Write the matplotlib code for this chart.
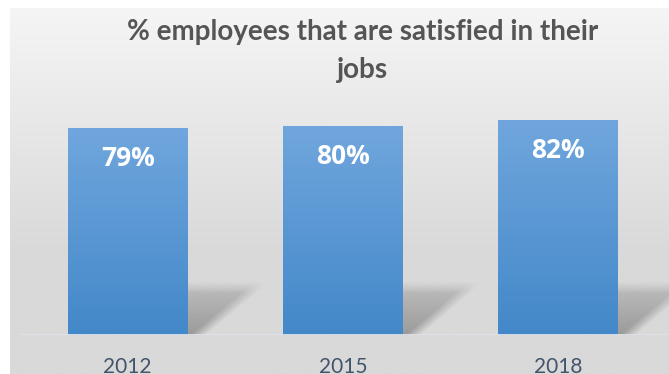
import matplotlib.pyplot as plt
import numpy as np

years = ['2012', '2015', '2018']
satisfied = [79, 80, 82]
title = '% employees that are satisfied in their\njobs'

W, H = 669, 374
fig = plt.figure(figsize=(W / 100, H / 100), dpi=100)
fig.patch.set_facecolor('white')

# chart area with a soft vertical gradient
bg = fig.add_axes([10 / W, 0, 1 - 10 / W, 1 - 8 / H])
bg.set_axis_off()
rows = np.linspace(0, 1, 200)
shade = np.clip(245 - 30 * rows / 0.72, 217, 245) / 255
bg.imshow(np.repeat(shade[:, None, None], 3, axis=2) * np.ones((1, 2, 3)),
          aspect='auto', extent=(0, 1, 0, 1), interpolation='bilinear')
bg.set_xlim(0, 1)
bg.set_ylim(0, 1)

# plotting axes: baseline at 335px, 100% at 74px
px_x = 215.3          # pixels per x unit
px_y = 2.61           # pixels per y unit
ax = fig.add_axes([20 / W, (H - 335) / H, 649 / W, 261 / H])
ax.set_facecolor('none')

x = np.arange(len(years))
w = 120 / px_x

top_c = np.array([112, 166, 221]) / 255
bot_c = np.array([67, 136, 201]) / 255
grad = np.linspace(0, 1, 100)[:, None]
bar_img = (top_c * (1 - grad) + bot_c * grad)[:, None, :]

# soft perspective shadows behind each bar
su = np.linspace(0, 80, 160)
sv = np.linspace(0, 60, 120)
U, V = np.meshgrid(su, sv)
edge = 10 + (67 - 10) * V / 48
d_diag = (edge - U) / 1.3
d_top = 48 - V
alpha = np.clip(d_diag / 12 + 0.5, 0, 1) * np.clip(d_top / 12 + 0.5, 0, 1)
alpha *= np.clip(1 - V / 90, 0, 1)
shadow = np.zeros((len(sv), len(su), 4))
shadow[..., 3] = 0.29 * alpha

for xi, v in zip(x, satisfied):
    xr = xi + w / 2
    ax.imshow(shadow[::-1], extent=(xr, xr + 80 / px_x, 0, 60 / px_y),
              aspect='auto', interpolation='bilinear', zorder=1)
    ax.imshow(bar_img, extent=(xi - w / 2, xi + w / 2, 0, v),
              aspect='auto', interpolation='bilinear', zorder=2)
    ax.annotate(f'{v}%', (xi, v), xytext=(0, -30), textcoords='offset pixels',
                ha='center', va='center', color='white', fontsize=19,
                fontweight='bold', family='Open Sans', zorder=3)

ax.axhline(0, color='#dde3ea', lw=2, zorder=2.5)
ax.axhline(-1.1, color='#c9c9c9', lw=1.2, zorder=2.4, xmax=0.99)
ax.set_ylim(0, 100)
ax.set_xlim(-0.5, -0.5 + 649 / px_x)

for s in ax.spines.values():
    s.set_visible(False)
ax.set_yticks([])
ax.set_xticks(x)
ax.set_xticklabels(years, color='#44546a', fontsize=15, family='Lato')
ax.tick_params(axis='x', length=0, pad=16)

fig.text(363 / W, 1 - 51 / H, title, ha='center', va='center',
         fontsize=20, fontweight='bold', color='#555555', family='Lato',
         linespacing=1.6)

fig.savefig('out.png', dpi=100)
